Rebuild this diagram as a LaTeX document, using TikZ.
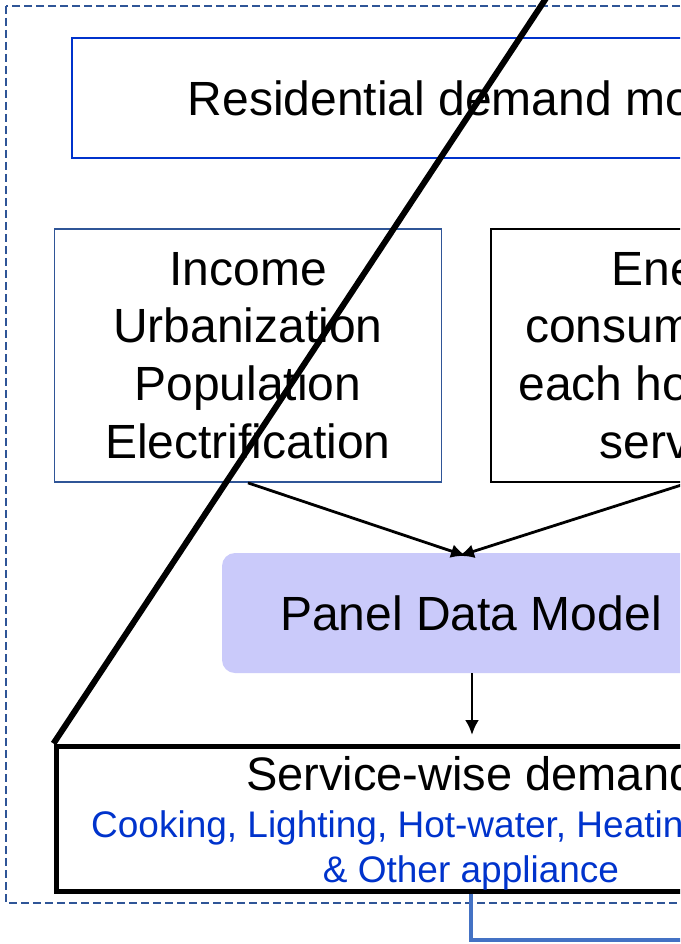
\documentclass[tikz,border=0pt]{standalone}
\usepackage{fontspec}
\setmainfont{Liberation Sans}
\usetikzlibrary{arrows.meta}
\definecolor{resblue}{HTML}{0033CC}
\definecolor{incblue}{HTML}{2F5597}
\definecolor{lav}{HTML}{CACAFA}
\definecolor{connblue}{HTML}{4472C4}
\begin{document}
\begin{tikzpicture}[x=1pt,y=-1pt,
  bigtxt/.style={font=\fontsize{48}{57.6}\selectfont},
  srvtxt/.style={font=\fontsize{47}{56}\selectfont},
  bluetxt/.style={font=\fontsize{37}{44}\selectfont, text=resblue},
  box/.style={draw, rectangle, inner sep=0pt, align=center, bigtxt},
  arr/.style={line width=2.8pt, -{Latex[length=15pt,width=14pt]}},
  dashframe/.style={draw=incblue, line width=1.4pt, dash pattern=on 8pt off 4pt},
  conn/.style={draw=connblue, line width=4pt}]
\useasboundingbox (0,0) rectangle (680,944);
\clip (0,0) rectangle (680,944);
% outer dashed frame
\draw[dashframe] (6,6) rectangle (940,903);
% boxes
\node[box, draw=resblue, line width=2pt, minimum width=800pt, minimum height=120pt] (res) at (472,98) {Residential demand model};
\node[box, draw=incblue, line width=1.8pt, minimum width=387pt, minimum height=253pt] (inc) at (248,355.5) {Income\\Urbanization\\Population\\Electrification};
\node[box, draw=black, line width=1.8pt, minimum width=394pt, minimum height=253pt] (en) at (688,355.5) {Energy\\consumption of\\each household\\services};
\node[rectangle, fill=lav, rounded corners=13pt, inner sep=0pt, minimum width=498pt, minimum height=120pt, bigtxt] (pdm) at (471,613) {Panel Data Model};
\node[draw, rectangle, line width=5pt, inner sep=0pt, minimum width=830pt, minimum height=145pt] (srv) at (471,818.5) {};
\node[srvtxt, anchor=base west, inner sep=0pt] (srvt) at (246,790) {Service-wise demand};
\node[bluetxt, anchor=base west, inner sep=0pt] (srvl1) at (91,837) {Cooking, Lighting, Hot-water, Heating};
\node[bluetxt, anchor=base, inner sep=0pt] (srvl2) at (471,882) {\& Other appliance};
% arrows
\coordinate (pinL) at (466,556);
\coordinate (pinR) at (459,556);
\coordinate (pinD) at (472,735);
\draw[arr] (inc.south) -- (pinL);
\draw[arr] (en.south) -- (pinR);
\draw[arr] (pdm.south -| pinD) -- (pinD);
% bottom connector
\coordinate (outR) at (720,940);
\draw[conn] (srv.south) |- (outR);
% diagonal line
\coordinate (diagTop) at (558.1,-20);
\draw[line width=6pt] (srv.north west) -- (diagTop);
\end{tikzpicture}
\end{document}
